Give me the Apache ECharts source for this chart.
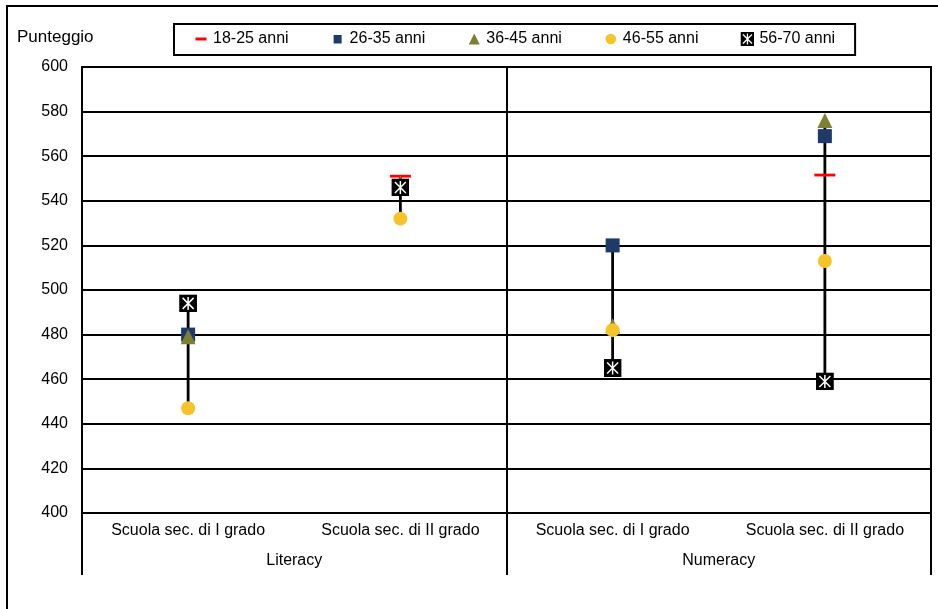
<!DOCTYPE html>
<html>
<head>
<meta charset="utf-8">
<script src="https://cdn.jsdelivr.net/npm/echarts@6/dist/echarts.min.js"></script>
<style>html,body{margin:0;padding:0;background:#fff}#c{width:938px;height:609px}</style>
</head>
<body>
<div id="c"></div>
<script>
// ---- data ----
const categories = ['Scuola sec. di I grado', 'Scuola sec. di II grado', 'Scuola sec. di I grado', 'Scuola sec. di II grado'];
const groups = ['Literacy', 'Numeracy'];
const seriesNames = ['18-25 anni', '26-35 anni', '36-45 anni', '46-55 anni', '56-70 anni'];
const age18_25 = [null, 551, null, 551.5];
const age26_35 = [480, 546, 520, 569];
const age36_45 = [479, 548, 484, 576];
const age46_55 = [447, 532, 482, 513];
const age56_70 = [494, 546, 465, 459];
const yMin = 400, yMax = 600, yStep = 20;
const yAxisTitle = 'Punteggio';

const allSeries = [age18_25, age26_35, age36_45, age46_55, age56_70];
const ranges = categories.map((c, i) => {
  const vals = allSeries.map(s => s[i]).filter(v => v != null);
  return [i, Math.min.apply(null, vals), Math.max.apply(null, vals)];
});

function svgImg(svg) { return 'image://data:image/svg+xml;charset=utf-8,' + encodeURIComponent(svg); }
const starBox = svgImg('<svg xmlns="http://www.w3.org/2000/svg" width="18" height="18" viewBox="0 0 18 18"><rect x="0" y="0" width="18" height="18" fill="#000"/><path d="M3.5 3.5 L14.5 14.5 M14.5 3.5 L3.5 14.5 M9 2.5 L9 15.5" stroke="#fff" stroke-width="1.5"/></svg>');
const dashMark = svgImg('<svg xmlns="http://www.w3.org/2000/svg" width="22" height="22" viewBox="0 0 22 22"><rect x="0.5" y="9.5" width="21" height="2.8" fill="#FF0000"/></svg>');
const legDash = svgImg('<svg xmlns="http://www.w3.org/2000/svg" width="14" height="14" viewBox="0 0 14 14"><rect x="1.5" y="5.5" width="11" height="3" fill="#FF0000"/></svg>');
const legSquare = svgImg('<svg xmlns="http://www.w3.org/2000/svg" width="14" height="14" viewBox="0 0 14 14"><rect x="3" y="3" width="8" height="8.5" fill="#1F3A68"/></svg>');
const legTri = svgImg('<svg xmlns="http://www.w3.org/2000/svg" width="14" height="14" viewBox="0 0 14 14"><path d="M7 1.5 L12.5 12.5 L1.5 12.5 Z" fill="#7F7F32"/></svg>');
const legCircle = svgImg('<svg xmlns="http://www.w3.org/2000/svg" width="14" height="14" viewBox="0 0 14 14"><circle cx="7" cy="7" r="5.3" fill="#F6C428"/></svg>');
const legStar = svgImg('<svg xmlns="http://www.w3.org/2000/svg" width="14" height="14" viewBox="0 0 14 14"><rect x="0" y="0" width="14" height="14" fill="#000"/><path d="M2.5 2.5 L11.5 11.5 M11.5 2.5 L2.5 11.5 M7 1.5 L7 12.5" stroke="#fff" stroke-width="1.3"/></svg>');

const FONT = "'Liberation Sans', Arial, sans-serif";
const chart = echarts.init(document.getElementById('c'), null, { renderer: 'canvas' });
chart.setOption({
  animation: false,
  backgroundColor: '#fff',
  textStyle: { fontFamily: FONT, color: '#000' },
  graphic: [
    { type: 'rect', z: -10, silent: true, shape: { x: 7, y: 6, width: 1000, height: 1000 }, style: { fill: 'none', stroke: '#000', lineWidth: 2 } },
    { type: 'text', left: 17, top: 29, style: { text: yAxisTitle, font: "17px 'Liberation Sans', Arial, sans-serif", fill: '#000' } }
  ],
  legend: {
    left: 174, top: 24,
    padding: [7, 20, 8, 20],
    borderColor: '#000', borderWidth: 2,
    itemWidth: 14, itemHeight: 14, itemGap: 42,
    textStyle: { fontSize: 16, color: '#000', fontFamily: FONT },
    data: [
      { name: seriesNames[0], icon: legDash },
      { name: seriesNames[1], icon: legSquare },
      { name: seriesNames[2], icon: legTri },
      { name: seriesNames[3], icon: legCircle },
      { name: seriesNames[4], icon: legStar }
    ]
  },
  grid: { left: 82, right: 7, top: 67, bottom: 96, show: true, borderColor: '#000', borderWidth: 2 },
  xAxis: [
    {
      type: 'category', data: categories, boundaryGap: true,
      axisLine: { show: true, lineStyle: { color: '#000', width: 2 } },
      axisTick: { show: false },
      axisLabel: { fontSize: 16, color: '#000', margin: 10, interval: 0, fontFamily: FONT },
      splitLine: { show: false }
    },
    {
      type: 'category', data: groups, position: 'bottom', boundaryGap: true,
      axisLine: { show: false },
      axisTick: { show: true, length: 62, lineStyle: { color: '#000', width: 2 } },
      axisLabel: { fontSize: 16, color: '#000', margin: 40, interval: 0, fontFamily: FONT },
      splitLine: { show: true, lineStyle: { color: '#000', width: 2 } }
    }
  ],
  yAxis: {
    type: 'value', min: yMin, max: yMax, interval: yStep,
    axisLine: { show: true, lineStyle: { color: '#000', width: 2 } },
    axisTick: { show: false },
    axisLabel: { fontSize: 16, color: '#000', margin: 14, fontFamily: FONT },
    splitLine: { show: true, lineStyle: { color: '#000', width: 2 } }
  },
  series: [
    {
      type: 'custom', name: 'range', xAxisIndex: 0, z: 1, silent: true,
      encode: { x: 0, y: [1, 2] },
      data: ranges,
      renderItem: function (params, api) {
        const p1 = api.coord([api.value(0), api.value(1)]);
        const p2 = api.coord([api.value(0), api.value(2)]);
        return { type: 'line', shape: { x1: p1[0], y1: p1[1], x2: p2[0], y2: p2[1] }, style: { stroke: '#000', lineWidth: 2.8 } };
      }
    },
    { type: 'scatter', name: seriesNames[0], z: 2, data: age18_25, symbol: dashMark, symbolSize: 22, itemStyle: { opacity: 1 } },
    { type: 'scatter', name: seriesNames[1], z: 3, data: age26_35, symbol: 'rect', symbolSize: 14, itemStyle: { color: '#1F3A68', opacity: 1 } },
    { type: 'scatter', name: seriesNames[2], z: 4, data: age36_45, symbol: 'triangle', symbolSize: [15, 15], itemStyle: { color: '#7F7F32', opacity: 1 } },
    { type: 'scatter', name: seriesNames[3], z: 5, data: age46_55, symbol: 'circle', symbolSize: 14, itemStyle: { color: '#F6C428', opacity: 1 } },
    { type: 'scatter', name: seriesNames[4], z: 6, data: age56_70, symbol: starBox, symbolSize: 18, itemStyle: { opacity: 1 } }
  ]
});
</script>
</body>
</html>
